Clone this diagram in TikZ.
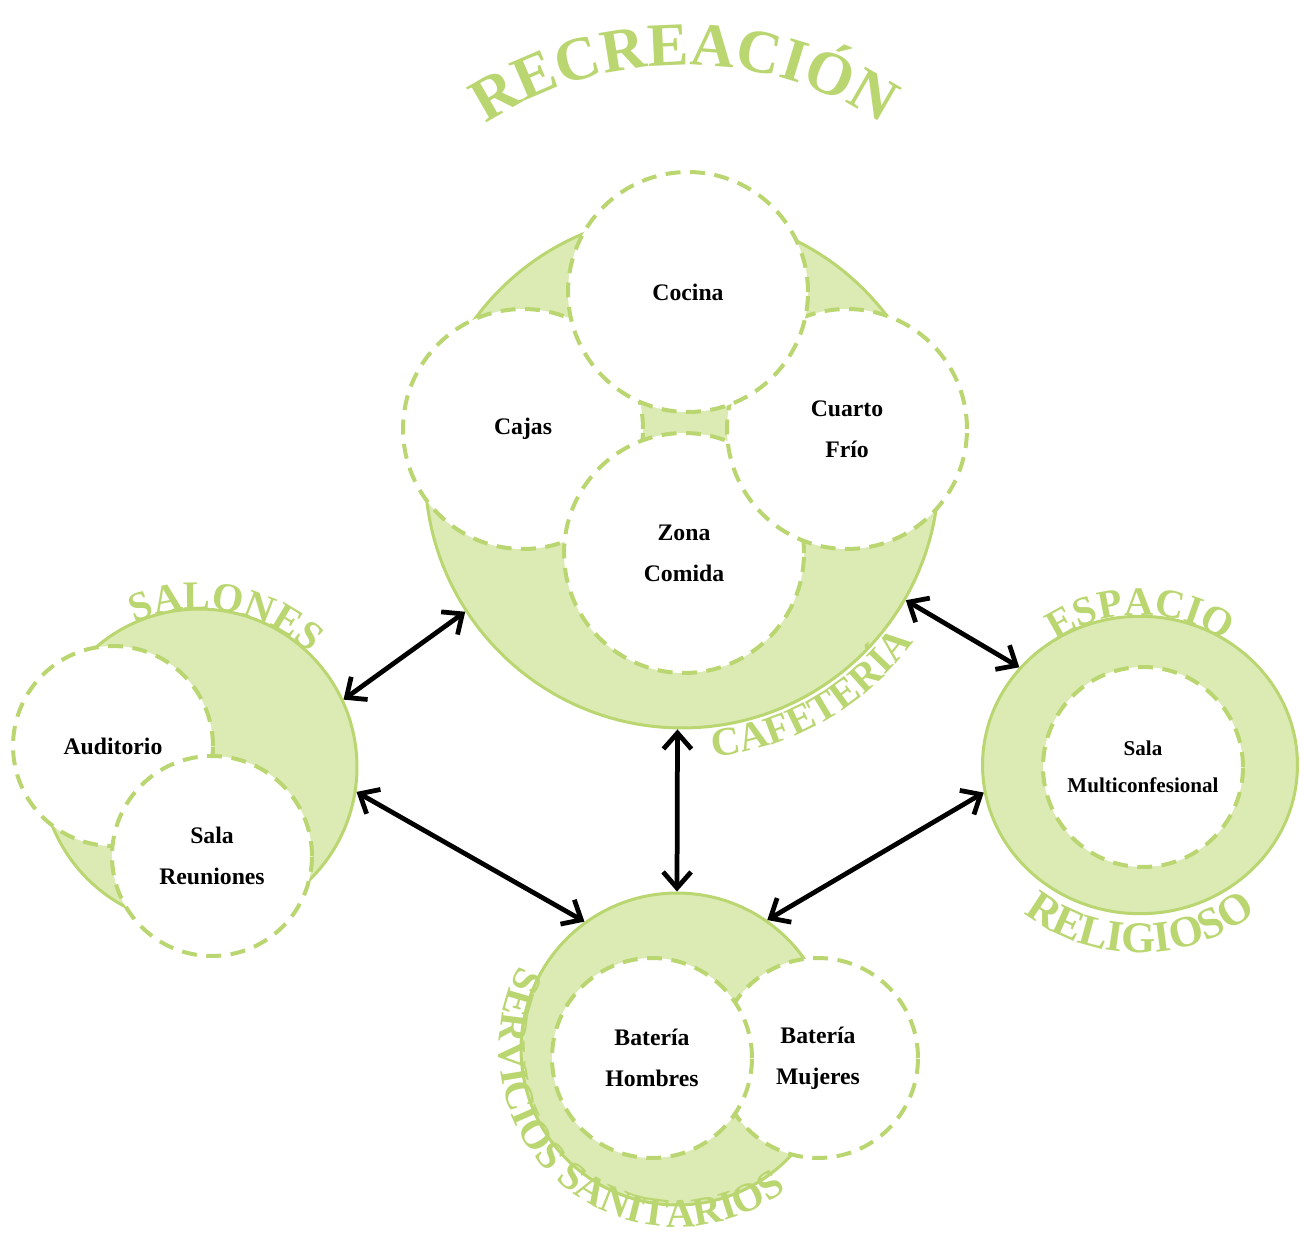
\documentclass[tikz,border=0pt]{standalone}
\usepackage{fontspec}
\setmainfont{Liberation Serif}
\usepackage{tikz}
\usetikzlibrary{arrows.meta,shapes.geometric,decorations.text}
\definecolor{grn}{RGB}{186,214,112}
\definecolor{grnfill}{RGB}{220,234,180}

\begin{document}
\begin{tikzpicture}[
    x=0.02cm, y=0.02cm,
    zone/.style={circle, draw=grn, fill=grnfill, line width=0.06cm, minimum size=#1},
    room/.style={circle, draw=grn, fill=white, line width=0.08cm, dash pattern=on 0.3cm off 0.19cm, minimum size=#1, align=center, font=\bfseries\fontsize{13.5}{23.5}\selectfont},
    link/.style={{Straight Barb[length=0.32cm,width=0.56cm]}-{Straight Barb[length=0.32cm,width=0.56cm]}, line width=0.095cm, line join=round, line cap=round},
    arclabel/.style 2 args={decorate, decoration={text along path, text align=center, text color=grn, text={|\bfseries\fontsize{#1}{#1}\selectfont|#2}}}
]
    \useasboundingbox (0,0) rectangle (1304,-1236);

    \node[zone=10.28cm] (caf) at (682,-471) {};
    \node[room=4.8cm] (cajas) at (523,-429) {Cajas};
    \node[room=4.8cm] (zona) at (684,-553) {Zona\\Comida};
    \node[room=4.8cm] (cuarto) at (847,-429) {Cuarto\\Frío};
    \node[room=4.8cm] (cocina) at (688,-292) {Cocina};

    \node[zone=6.32cm] (sal) at (199,-767) {};
    \node[room=4cm] (aud) at (113,-746) {Auditorio};
    \node[room=4cm] (reun) at (212,-856) {Sala\\Reuniones};

    \node[ellipse, draw=grn, fill=grnfill, line width=0.06cm, minimum width=6.3cm, minimum height=5.95cm] (esp) at (1140,-765) {};
    \node[room=4cm, font=\bfseries\fontsize{12}{21}\selectfont] (multi) at (1143,-767) {Sala\\Multiconfesional};

    \node[zone=6.24cm] (serv) at (677,-1049) {};
    \node[room=4cm] (muj) at (818,-1058) {Batería\\Mujeres};
    \node[room=4cm] (hom) at (652,-1058) {Batería\\Hombres};

    \draw[link] (sal.25) -- (caf.213);
    \draw[link] (sal.351) -- (serv.126);
    \draw[link] (caf.269) -- (serv.90);
    \draw[link] (caf.330) -- (esp.141);
    \draw[link] (esp.190) -- (serv.55);

    \path[arclabel={35}{RECREACIÓN}] (684,-425) ++(150:360) arc[start angle=150, end angle=30, radius=360];
    \path[arclabel={23}{CAFETERÍA}] (caf.center) ++(255:288) arc[start angle=255, end angle=345, radius=288];
    \path[arclabel={23}{SALONES}] (sal.center) ++(150:158) arc[start angle=150, end angle=10, radius=158];
    \path[arclabel={23}{ESPACIO}] (esp.center) ++(150:150) arc[start angle=150, end angle=30, radius=150];
    \path[arclabel={25}{RELIGIOSO}] (esp.center) ++(200:188) arc[start angle=200, end angle=340, radius=188];
    \path[arclabel={23}{SERVICIOS SANITARIOS}] (serv.center) ++(140:178) arc[start angle=140, end angle=320, radius=178];
\end{tikzpicture}
\end{document}
